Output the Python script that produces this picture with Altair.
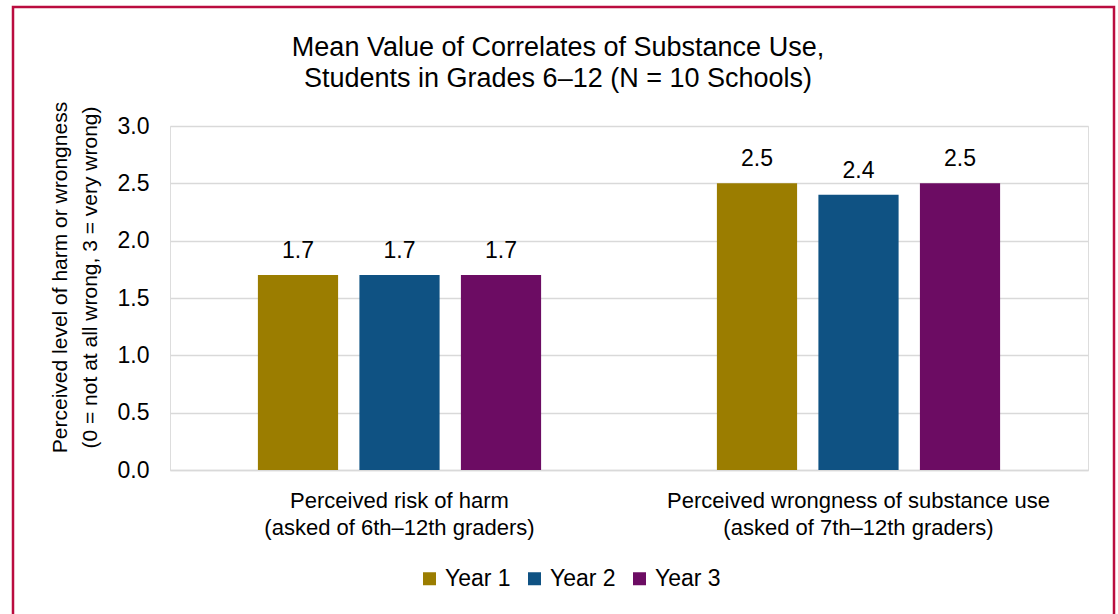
import altair as alt
import pandas as pd

# Category labels (first line / second line under each group)
cat_titles = ["Perceived risk of harm", "Perceived wrongness of substance use"]
cat_notes = ["(asked of 6th\u201312th graders)", "(asked of 7th\u201312th graders)"]

years = ["Year 1", "Year 2", "Year 3"]
year1 = [1.7, 2.5]
year2 = [1.7, 2.4]
year3 = [1.7, 2.5]
year_colors = ["#9B7D00", "#0F5283", "#6C0C63"]

y_ticks = [0.0, 0.5, 1.0, 1.5, 2.0, 2.5, 3.0]

title_lines = [
    "Mean Value of Correlates of Substance Use,",
    "Students in Grades 6\u201312 (N = 10 Schools)",
]
y_title = [
    "Perceived level of harm or wrongness",
    "(0 = not at all wrong, 3 = very wrong)",
]

categories = [f"{t}|{n}" for t, n in zip(cat_titles, cat_notes)]
rows = []
for i, cat in enumerate(categories):
    for yr, series in zip(years, [year1, year2, year3]):
        rows.append({"category": cat, "year": yr, "value": series[i]})
df = pd.DataFrame(rows)

FONT = "Liberation Sans"

x_enc = alt.X(
    "category:N",
    sort=categories,
    scale=alt.Scale(paddingInner=0, paddingOuter=0),
    axis=alt.Axis(
        title=None,
        labelExpr="split(datum.label, '|')",
        labelAngle=0,
        labelLimit=0,
        labelFontSize=22,
        labelLineHeight=27,
        labelPadding=20,
        labelColor="#000000",
        labelFont=FONT,
        ticks=False,
        domainColor="#D9D9D9",
        domainWidth=1.5,
        grid=False,
    ),
)
xoff_enc = alt.XOffset(
    "year:N", sort=years, scale=alt.Scale(paddingInner=0.21, paddingOuter=0.866)
)
y_enc = alt.Y(
    "value:Q",
    scale=alt.Scale(domain=[0, 3], nice=False),
    axis=alt.Axis(
        values=y_ticks,
        format=".1f",
        grid=True,
        gridColor="#D9D9D9",
        gridWidth=1.5,
        domain=False,
        ticks=False,
        labelPadding=21,
        labelFontSize=23,
        labelColor="#000000",
        labelFont=FONT,
        title=y_title,
        titleFont=FONT,
        titleFontSize=21,
        titleFontWeight="normal",
        titleColor="#000000",
        titleLineHeight=30,
        titleX=-104,
        titleY=151,
        titleBaseline="alphabetic",
    ),
)

bars = alt.Chart(df).mark_bar().encode(
    x=x_enc,
    xOffset=xoff_enc,
    y=y_enc,
    color=alt.Color(
        "year:N",
        sort=years,
        scale=alt.Scale(domain=years, range=year_colors),
        legend=alt.Legend(
            title=None,
            orient="none",
            legendX=248,
            legendY=441,
            direction="horizontal",
            symbolType="square",
            symbolSize=169,
            symbolStrokeWidth=0,
            labelFontSize=23,
            labelFont=FONT,
            labelColor="#000000",
            labelOffset=4,
            columnPadding=12,
            padding=0,
        ),
    ),
)

labels = alt.Chart(df).mark_text(
    dy=-17, baseline="alphabetic", fontSize=23, font=FONT, color="#000000"
).encode(
    x=alt.X("category:N", sort=categories),
    xOffset=alt.XOffset("year:N", sort=years),
    y=alt.Y("value:Q"),
    text=alt.Text("value:Q", format=".1f"),
)

# Outer frame around the whole figure
frame = alt.Chart(alt.Data(values=[{}])).mark_rect(
    filled=False, stroke="#BA0C3F", strokeWidth=2.5
).encode(
    x=alt.value(-157),
    x2=alt.value(944),
    y=alt.value(-119),
    y2=alt.value(530),
)

chart = (
    alt.layer(bars, labels, frame)
    .properties(
        width=918,
        height=344,
        autosize=alt.AutoSizeParams(type="none"),
        padding={"left": 170, "top": 126, "right": 30, "bottom": 144},
        title=alt.TitleParams(
            text=title_lines,
            font=FONT,
            fontSize=27,
            fontWeight="normal",
            color="#000000",
            anchor="middle",
            frame="group",
            dx=-71,
            dy=123,
            offset=36,
            lineHeight=31,
        ),
    )
    .configure_view(stroke=None)
    .configure(font=FONT, background="#FFFFFF")
)

chart.save("out.html", embed_options={"renderer": "svg", "actions": False})
